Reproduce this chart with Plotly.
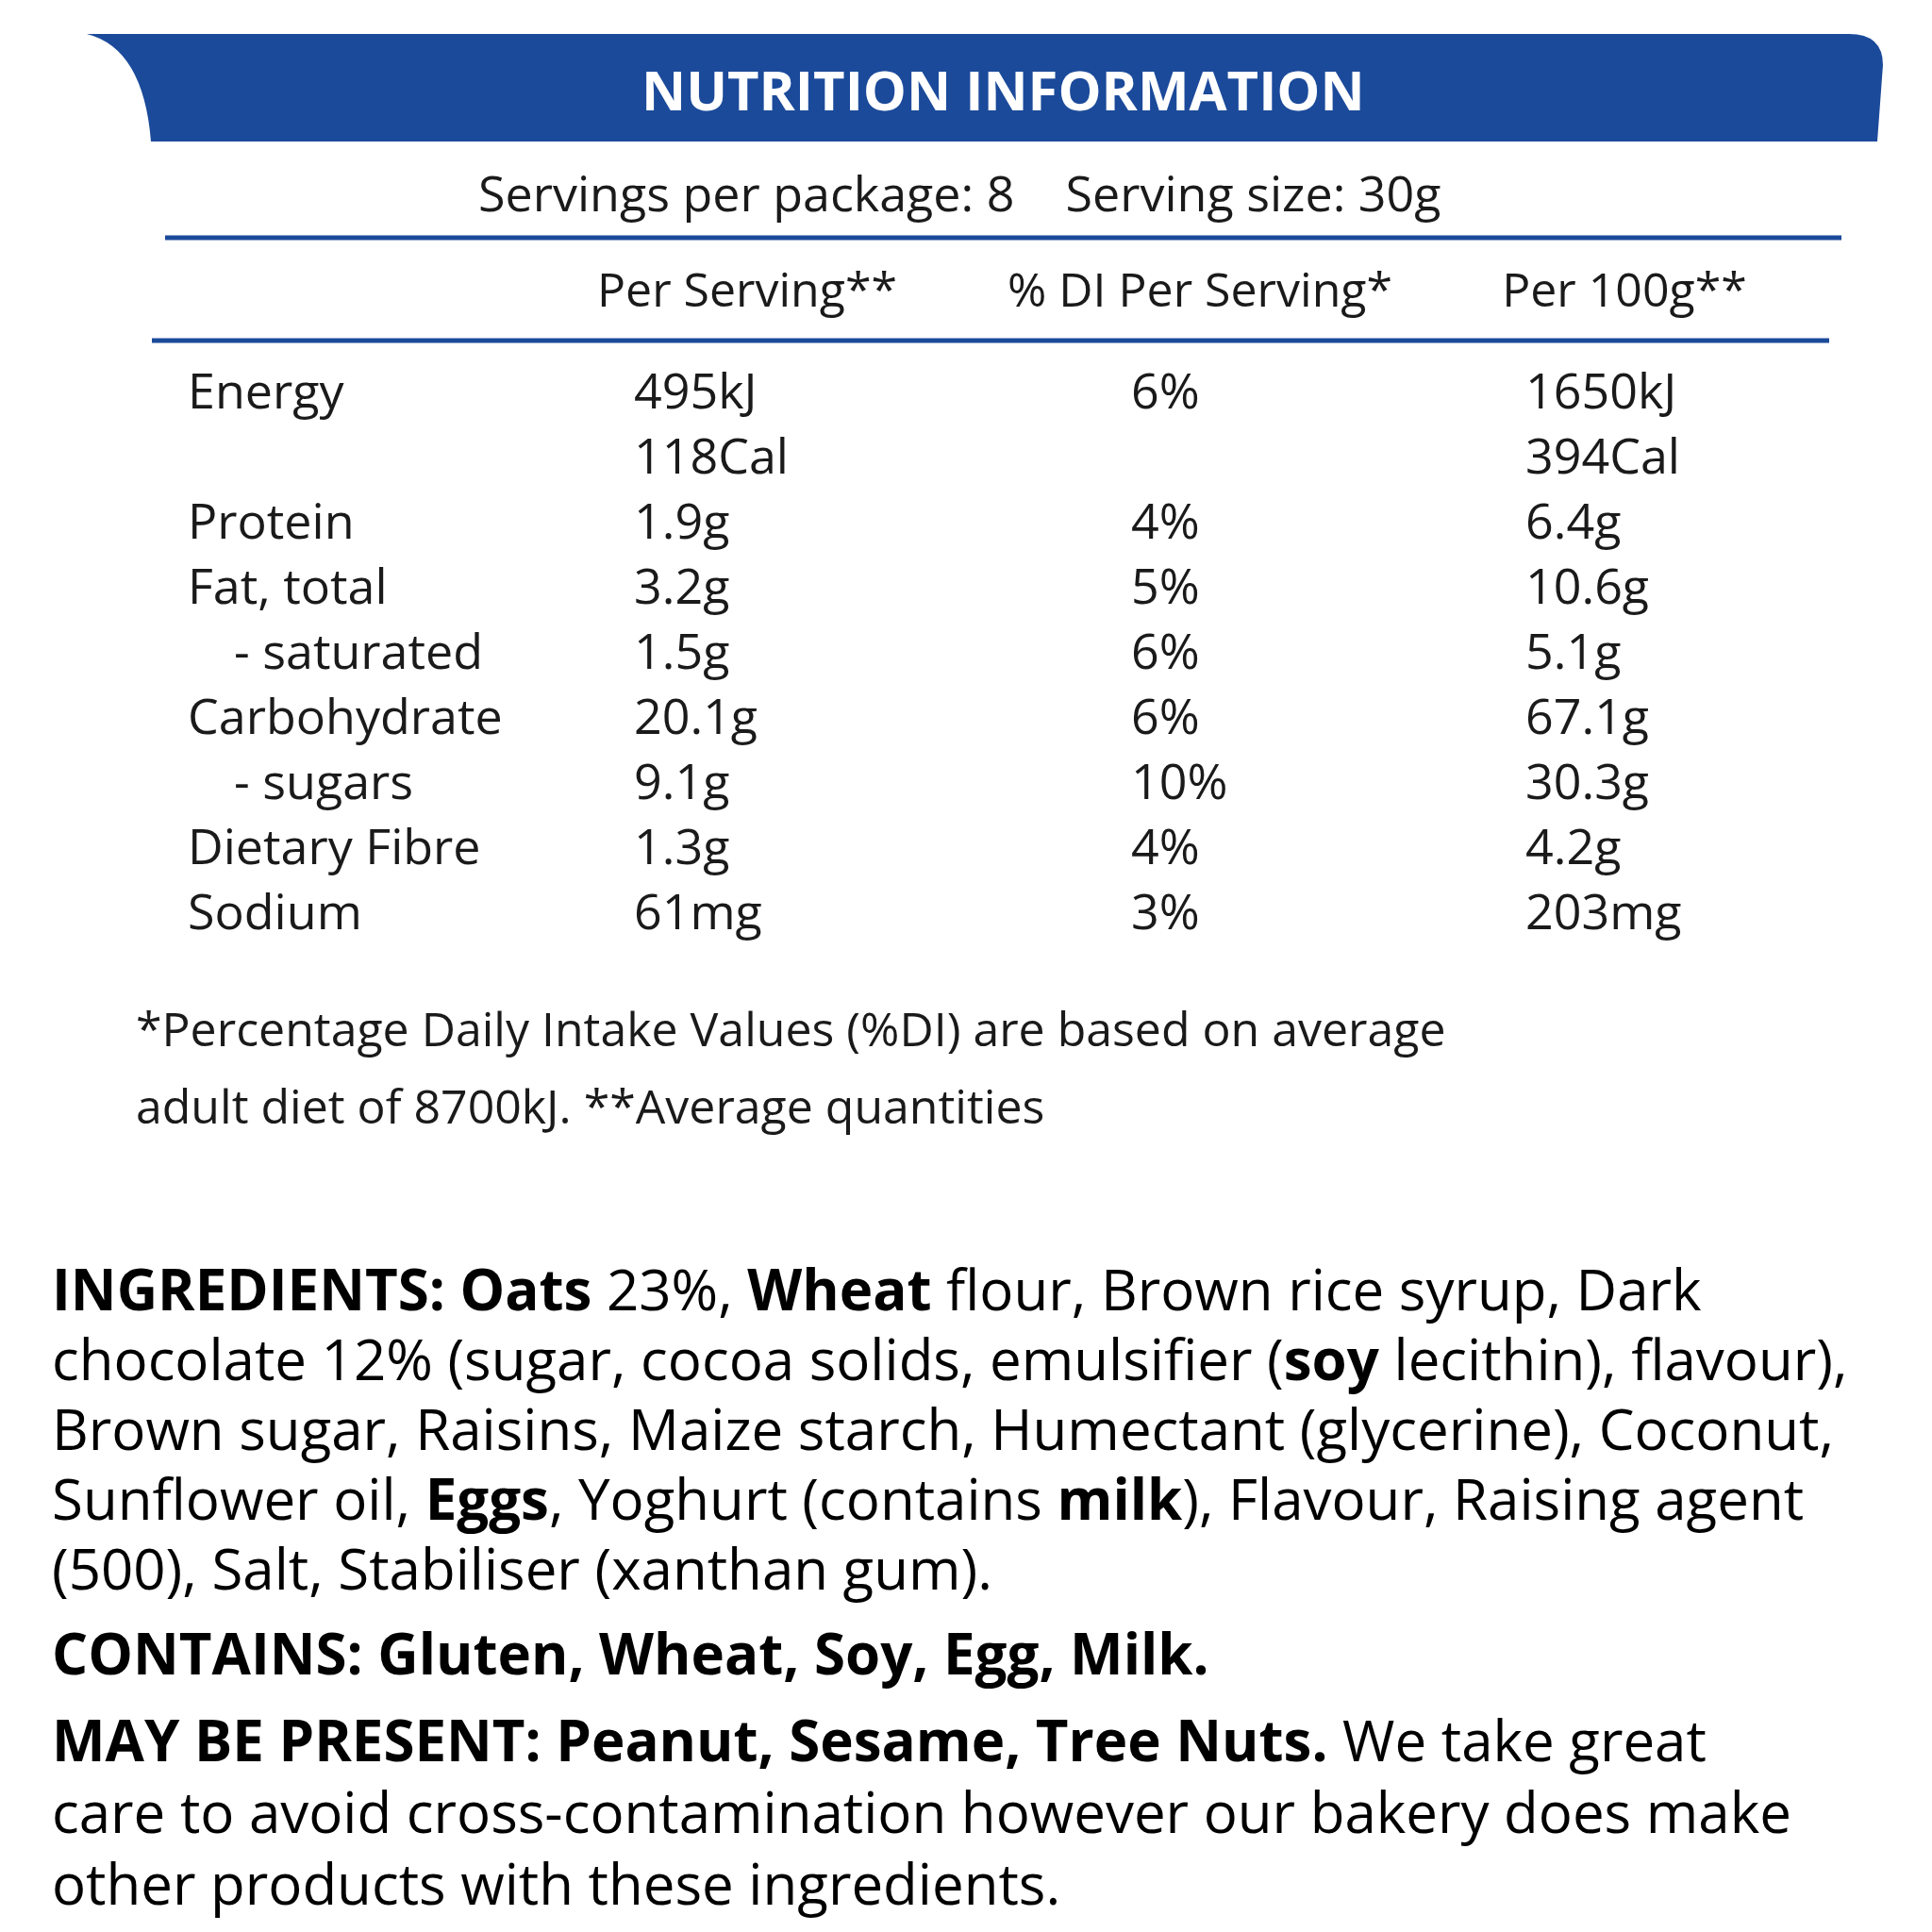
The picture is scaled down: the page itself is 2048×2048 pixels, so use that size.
import plotly.graph_objects as go

title = "NUTRITION INFORMATION"
servings = "Servings per package: 8    Serving size: 30g"
col_heads = ["Per Serving**", "% DI Per Serving*", "Per 100g**"]

labels = ["Energy", "", "Protein", "Fat, total", "  - saturated", "Carbohydrate",
          "  - sugars", "Dietary Fibre", "Sodium"]
per_serving = ["495kJ", "118Cal", "1.9g", "3.2g", "1.5g", "20.1g", "9.1g", "1.3g", "61mg"]
di_serving = ["6%", "", "4%", "5%", "6%", "6%", "10%", "4%", "3%"]
per_100g = ["1650kJ", "394Cal", "6.4g", "10.6g", "5.1g", "67.1g", "30.3g", "4.2g", "203mg"]

footnote = ["*Percentage Daily Intake Values (%DI) are based on average",
            "adult diet of 8700kJ. **Average quantities"]

ingredients = [
    "<b>INGREDIENTS: Oats</b> 23%, <b>Wheat</b> flour, Brown rice syrup, Dark",
    "chocolate 12% (sugar, cocoa solids, emulsifier (<b>soy</b> lecithin), flavour),",
    "Brown sugar, Raisins, Maize starch, Humectant (glycerine), Coconut,",
    "Sunflower oil, <b>Eggs</b>, Yoghurt (contains <b>milk</b>), Flavour, Raising agent",
    "(500), Salt, Stabiliser (xanthan gum).",
]
contains = "<b>CONTAINS: Gluten, Wheat, Soy, Egg, Milk.</b>"
may_be = [
    "<b>MAY BE PRESENT: Peanut, Sesame, Tree Nuts.</b> We take great",
    "care to avoid cross-contamination however our bakery does make",
    "other products with these ingredients.",
]

BLUE = "#1b4a9a"
FONT = "Open Sans"
TXT = "#1a1a1a"

fig = go.Figure()

row_y = [412 + i * 69.0 for i in range(len(labels))]
lab_x = [240 if l.startswith("  ") else 191 for l in labels]
fig.add_trace(go.Scatter(x=lab_x, y=row_y, text=[l.strip() for l in labels], mode="text",
                         textposition="middle right", hoverinfo="skip",
                         textfont=dict(family=FONT, size=52, color=TXT)))
for xs, vals in [(664, per_serving), (1191, di_serving), (1609, per_100g)]:
    fig.add_trace(go.Scatter(x=[xs] * len(vals), y=row_y, text=vals, mode="text",
                             textposition="middle right", hoverinfo="skip",
                             textfont=dict(family=FONT, size=52, color=TXT)))

fig.add_trace(go.Scatter(x=[784, 1264, 1714], y=[304] * 3, text=col_heads, mode="text",
                         textposition="middle center", hoverinfo="skip",
                         textfont=dict(family=FONT, size=50, color=TXT)))

# header band
fig.add_shape(type="path", path="M 84 28 Q 144 43 152 142 L 1982 142 L 1988 61 Q 1988 28 1952 28 Z",
              fillcolor=BLUE, line=dict(width=0), layer="below")
fig.add_shape(type="line", x0=167, x1=1944, y0=244, y1=244, line=dict(color=BLUE, width=5))
fig.add_shape(type="line", x0=153, x1=1931, y0=353, y1=353, line=dict(color=BLUE, width=5))

ann = []
ann.append(dict(x=1055, y=86, text="<b>" + title + "</b>", xanchor="center",
                font=dict(family=FONT, size=58, color="white")))
ann.append(dict(x=1009, y=195, text=servings, xanchor="center",
                font=dict(family=FONT, size=52, color=TXT)))
for i, t in enumerate(footnote):
    ann.append(dict(x=134, y=1082 + i * 82, text=t, xanchor="left",
                    font=dict(family=FONT, size=50, color=TXT)))
for i, t in enumerate(ingredients):
    ann.append(dict(x=45, y=1358 + i * 74, text=t, xanchor="left",
                    font=dict(family=FONT, size=60, color="black")))
ann.append(dict(x=45, y=1744, text=contains, xanchor="left",
                font=dict(family=FONT, size=60, color="black")))
for i, t in enumerate(may_be):
    ann.append(dict(x=45, y=1836 + i * 76, text=t, xanchor="left",
                    font=dict(family=FONT, size=60, color="black")))
for a in ann:
    a.update(xref="x", yref="y", showarrow=False, yanchor="middle")

fig.update_layout(
    width=2048, height=2048, margin=dict(l=0, r=0, t=0, b=0),
    paper_bgcolor="white", plot_bgcolor="white", showlegend=False,
    annotations=ann,
    xaxis=dict(range=[0, 2048], visible=False, fixedrange=True),
    yaxis=dict(range=[2048, 0], visible=False, fixedrange=True),
)
fig.write_html("out.html")
